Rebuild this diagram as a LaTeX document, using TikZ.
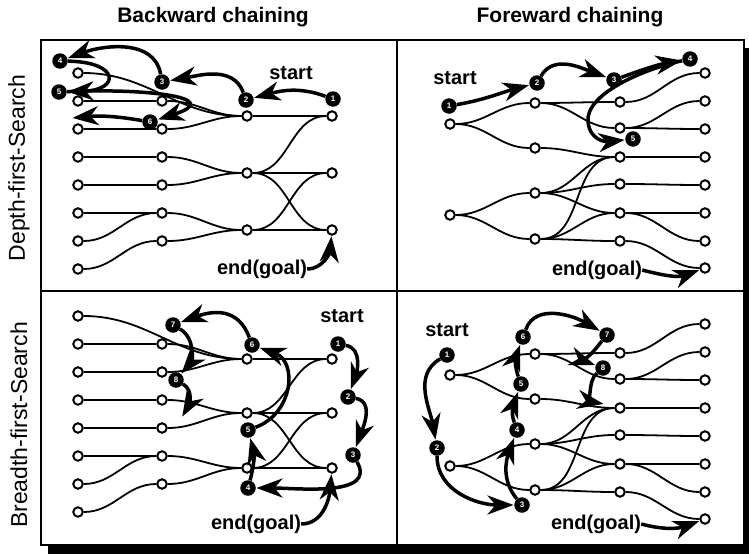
\documentclass[tikz,border=0pt]{standalone}
\usepackage{fontspec}
\setmainfont{Liberation Sans}
\usetikzlibrary{arrows.meta}
\pgfdeclarelayer{back}
\pgfdeclarelayer{edges}
\pgfsetlayers{back,edges,main}
\tikzset{
 wn/.style={circle,draw=black,fill=white,line width=2pt,inner sep=0pt,minimum size=9.5pt},
 bn/.style={circle,fill=black,inner sep=0pt,minimum size=15.5pt,text=white,font=\fontsize{8}{8}\selectfont\bfseries},
 ed/.style={line width=1.8pt},
 trail/.style={line width=3.5pt,-{Stealth[length=26pt,width=19pt,inset=8pt]},shorten >=0.5pt},
 lbl/.style={font=\fontsize{20}{22}\selectfont\bfseries,inner sep=0pt},
 ttl/.style={font=\fontsize{21}{24}\selectfont\bfseries,inner sep=0pt},
 vlbl/.style={font=\fontsize{23}{26}\selectfont,inner sep=0pt,rotate=90},
}
% backward graph: #1 prefix, #2 y offset of columns 1-2, #3 y list of columns 3-4
\newcommand\bwgraph[3]{%
 \foreach \y [count=\i] in {73,101,129,157,185,213,241,269} \node[wn] (#1a\i) at (78,-\y-#2) {};
 \foreach \y [count=\i] in {101,129,157,185,213,241} \node[wn] (#1b\i) at (162,-\y-#2) {};
 \foreach \y [count=\i] in {#3} \node[wn] (#1c\i) at (247,-\y) {};
 \foreach \y [count=\i] in {#3} \node[wn] (#1d\i) at (332,-\y) {};
 \begin{pgfonlayer}{edges}
 \foreach \s/\t in {a1/c1,a2/b1,b1/c1,a3/b2,b2/c1,a4/b3,b3/c2,a5/b4,b4/c2,a6/b5,a7/b5,a8/b6,b5/c3,b6/c3,c1/d1,c2/d1,c2/d2,c2/d3,c3/d2,c3/d3}
   \draw[ed] (#1\s) to[out=0,in=180] (#1\t);
 \end{pgfonlayer}
}
% forward graph: #1 prefix, #2 y offset
\newcommand\fwgraph[2]{%
 \foreach \y [count=\i] in {124,215} \node[wn] (#1a\i) at (450,-\y-#2) {};
 \foreach \y [count=\i] in {103,148,193,239} \node[wn] (#1b\i) at (535,-\y-#2) {};
 \foreach \y [count=\i] in {102,128,157,184,213,241} \node[wn] (#1c\i) at (620,-\y-#2) {};
 \foreach \y [count=\i] in {73,101,129,157,185,213,241,268} \node[wn] (#1d\i) at (705,-\y-#2) {};
 \begin{pgfonlayer}{edges}
 \foreach \s/\t in {a1/b1,a1/b2,a2/b3,a2/b4,b1/c1,b1/c2,b2/c3,b3/c3,b3/c4,b3/c5,b4/c3,b4/c5,b4/c6,c1/d1,c2/d2,c2/d3,c3/d4,c4/d5,c5/d6,c5/d7,c6/d8}
   \draw[ed] (#1\s) to[out=0,in=180] (#1\t);
 \end{pgfonlayer}
}
\begin{document}
\begin{tikzpicture}[x=1pt,y=1pt]
\useasboundingbox (0,0) rectangle (749,-554);
\begin{pgfonlayer}{back}
\fill[black] (48,-48) rectangle (749,-554);
\filldraw[fill=white,draw=black,line width=1.4pt] (41,-40) rectangle (744,-545);
\draw[line width=1.4pt] (397,-40) -- (397,-545);
\draw[line width=1.4pt] (41,-291) -- (744,-291);
\end{pgfonlayer}
\node[ttl] (t1) at (213,-17) {Backward chaining};
\node[ttl] (t2) at (570,-17) {Foreward chaining};
\node[vlbl] (v1) at (19,-168) {Depth-first-Search};
\node[vlbl] (v2) at (19,-425) {Breadth-first-Search};

\bwgraph{A}{0}{116,173,230}
\fwgraph{B}{0}
\bwgraph{C}{243}{359,413,468}
\fwgraph{D}{251}

% ---- Q1: backward, depth first
\node[lbl] (s1) at (291,-73) {start};
\node[lbl] (g1) at (262,-269) {end(goal)};
\node[bn] (K1) at (333,-99) {1};
\node[bn] (K2) at (246,-100) {2};
\node[bn] (K3) at (162,-82) {3};
\node[bn] (K4) at (60,-61) {4};
\node[bn] (K5) at (59,-92) {5};
\node[bn] (K6) at (150,-122) {6};
\coordinate (E6) at (72,-118);
\draw[trail] (K1) to[out=160,in=15] (K2);
\draw[trail] (K2) to[out=110,in=10] (K3);
\draw[trail] (K3) to[out=100,in=20] (K4);
\draw[trail] (K4) .. controls (120,-62) and (120,-90) .. (K5);
\draw[trail] (K5) .. controls (150,-88) and (225,-98) .. (K6);
\draw[trail] (K6) to[out=170,in=5] (E6);
\draw[trail] (g1.east) to[out=0,in=-95] (Ad3);

% ---- Q2: forward, depth first
\node[lbl] (s2) at (455,-78) {start};
\node[lbl] (g2) at (597,-270) {end(goal)};
\node[bn] (F1) at (449,-106) {1};
\node[bn] (F2) at (537,-83) {2};
\node[bn] (F3) at (614,-80) {3};
\node[bn] (F4) at (690,-59) {4};
\node[bn] (F5) at (633,-139) {5};
\draw[trail] (F1) to[out=10,in=-165] (F2);
\draw[trail] (F2) to[out=60,in=160] (F3);
\draw[trail] (F3) to[out=20,in=-170] (F4);
\draw[trail] (F4) .. controls (640,-70) and (585,-95) .. (588,-122) .. controls (590,-140) and (605,-142) .. (F5);
\draw[trail] (g2.east) to[out=-15,in=-160] (Bd8);

% ---- Q3: backward, breadth first
\node[lbl] (s3) at (342,-316) {start};
\node[lbl] (g3) at (256,-524) {end(goal)};
\node[bn] (M1) at (338,-344) {1};
\node[bn] (M2) at (348,-397) {2};
\node[bn] (M3) at (353,-455) {3};
\node[bn] (M4) at (248,-488) {4};
\node[bn] (M5) at (248,-430) {5};
\node[bn] (M6) at (252,-345) {6};
\node[bn] (M7) at (173,-325) {7};
\node[bn] (M8) at (176,-380) {8};
\coordinate (E8) at (182,-417);
\draw[trail] (M1) to[out=-10,in=70] (M2);
\draw[trail] (M2) to[out=-10,in=70] (M3);
\draw[trail] (M3) to[out=-60,in=0] (M4);
\draw[trail] (M4) to[out=75,in=-75] (M5);
\draw[trail] (M5) to[out=20,in=-20,looseness=1.3] (M6);
\draw[trail] (M6) to[out=110,in=20,looseness=1.2] (M7);
\draw[trail] (M7) to[out=-30,in=50] (M8);
\draw[trail] (M8) to[out=-30,in=60] (E8);
\draw[trail] (g3.east) to[out=0,in=-95] (Cd3);

% ---- Q4: forward, breadth first
\node[lbl] (s4) at (447,-330) {start};
\node[lbl] (g4) at (596,-524) {end(goal)};
\node[bn] (H1) at (447,-355) {1};
\node[bn] (H2) at (437,-448) {2};
\node[bn] (H3) at (522,-505) {3};
\node[bn] (H4) at (517,-430) {4};
\node[bn] (H5) at (521,-384) {5};
\node[bn] (H6) at (523,-337) {6};
\node[bn] (H7) at (607,-335) {7};
\node[bn] (H8) at (603,-368) {8};
\coordinate (E9) at (604,-404);
\draw[trail] (H1) to[out=-150,in=100] (H2);
\draw[trail] (H2) to[out=-90,in=180] (H3);
\draw[trail] (H3) to[out=130,in=-110] (H4);
\draw[trail] (H4) to[out=110,in=-110] (H5);
\draw[trail] (H5) to[out=110,in=-110] (H6);
\draw[trail] (H6) to[out=70,in=150] (H7);
\draw[trail] (H7) to[out=-130,in=160] (H8);
\draw[trail] (H8) to[out=-140,in=170] (E9);
\draw[trail] (g4.east) to[out=-15,in=-160] (Dd8);
\end{tikzpicture}
\end{document}
